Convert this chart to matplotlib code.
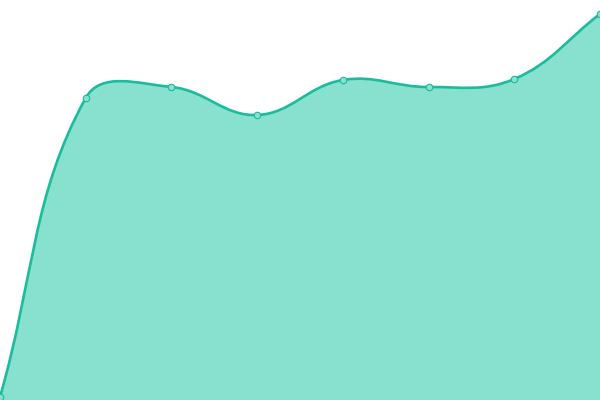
import matplotlib
matplotlib.use("Agg")
import matplotlib.pyplot as plt
import numpy as np
from matplotlib.path import Path
from matplotlib.patches import PathPatch

labels = ["A", "B", "C", "D", "E", "F", "G", "H"]
values = [3, 302, 313, 285, 320, 313, 321, 386]

fig = plt.figure(figsize=(6, 4), dpi=100)
ax = fig.add_axes([0, 0, 1, 1])
ax.set_xlim(0, len(values) - 1)
ax.set_ylim(0, 400)
ax.axis("off")

x = np.arange(len(values), dtype=float)
y = np.array(values, dtype=float)
pts = ax.transData.transform(np.column_stack([x, y]))

# Chart.js-style bezier spline (tension 0.4) in display space
t = 0.4
n = len(pts)
cp_prev = pts.copy()
cp_next = pts.copy()
for i in range(n):
    p0 = pts[i - 1] if i > 0 else pts[i]
    p1 = pts[i]
    p2 = pts[i + 1] if i < n - 1 else pts[i]
    d01 = np.hypot(*(p1 - p0))
    d12 = np.hypot(*(p2 - p1))
    s = d01 + d12
    s01 = d01 / s if s else 0
    s12 = d12 / s if s else 0
    cp_prev[i] = p1 - t * s01 * (p2 - p0)
    cp_next[i] = p1 + t * s12 * (p2 - p0)

# cap to chart area
bb = ax.bbox
for arr in (cp_prev, cp_next):
    arr[:, 0] = np.clip(arr[:, 0], bb.x0, bb.x1)
    arr[:, 1] = np.clip(arr[:, 1], bb.y0, bb.y1)

inv = ax.transData.inverted()
verts = [pts[0]]
codes = [Path.MOVETO]
for i in range(n - 1):
    verts += [cp_next[i], cp_prev[i + 1], pts[i + 1]]
    codes += [Path.CURVE4] * 3
verts_d = inv.transform(np.array(verts))

line_path = Path(verts_d, codes)
fill_verts = list(verts_d) + [[x[-1], 0], [x[0], 0], verts_d[0]]
fill_codes = codes + [Path.LINETO, Path.LINETO, Path.CLOSEPOLY]
ax.add_patch(PathPatch(Path(fill_verts, fill_codes), facecolor="#88e0cf",
                       edgecolor="none", zorder=1))
ax.add_patch(PathPatch(line_path, facecolor="none", edgecolor="#1abc9c",
                       lw=1.9, zorder=2))
ax.scatter(x, y, s=22, facecolor="#88e0cf", edgecolor="#1abc9c",
           linewidths=0.8, zorder=3, clip_on=False)

fig.savefig("out.png", dpi=100)
